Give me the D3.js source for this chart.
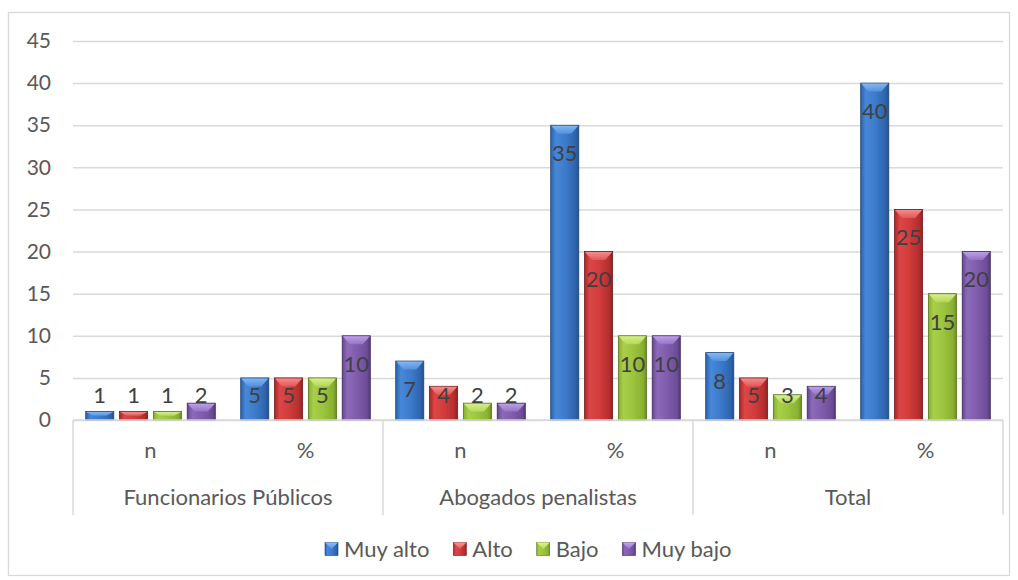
<!DOCTYPE html>
<html>
<head>
<meta charset="utf-8">
<script src="https://cdn.jsdelivr.net/npm/d3@7"></script>
<style>
  body { margin: 0; background: #fff; }
  text { font-family: Lato, "Noto Sans", sans-serif; fill: #595959; }
</style>
</head>
<body>
<div id="chart"></div>
<script>
// data
var groups = ["Funcionarios Públicos", "Abogados penalistas", "Total"];
var subs = ["n", "%"];
var series = ["Muy alto", "Alto", "Bajo", "Muy bajo"];
var muyAlto = [1, 5, 7, 35, 8, 40];
var alto = [1, 5, 4, 20, 5, 25];
var bajo = [1, 5, 2, 10, 3, 15];
var muyBajo = [2, 10, 2, 10, 4, 20];
var yTicks = [0, 5, 10, 15, 20, 25, 30, 35, 40, 45];

var values = [muyAlto, alto, bajo, muyBajo];

// colours for each series: body stops, bevel, outline
var colors = [
  {stops: ["#2C62AA", "#4788DA", "#3C79C9", "#2E64AC", "#23508C"], bevel: ["#8ABDF4", "#5593E0"], edge: "#1E4577"},
  {stops: ["#A82828", "#DC4646", "#D03B3B", "#B42E2E", "#8E2222"], bevel: ["#F79696", "#E45A5A"], edge: "#741B1B"},
  {stops: ["#86AD2F", "#A8CF4A", "#9CC33D", "#89B031", "#6C8E22"], bevel: ["#DCF296", "#B5DA58"], edge: "#56741A"},
  {stops: ["#66468F", "#8C6ABA", "#7F5CAB", "#6D4D97", "#543879"], bevel: ["#C2A6EC", "#9676C8"], edge: "#3E2A5C"}
];

var W = 1018, H = 580;
var margin = {top: 41, left: 73};
var width = 1003 - margin.left,
    height = 420 - margin.top;

var svg = d3.select("#chart")
  .append("svg")
    .attr("width", W)
    .attr("height", H);

// chart border
svg.append("rect")
  .attr("x", 8.5).attr("y", 12.5)
  .attr("width", 1001).attr("height", 563)
  .attr("fill", "none")
  .attr("stroke", "#D9D9D9")
  .attr("stroke-width", 1.3);

var defs = svg.append("defs");
colors.forEach(function(c, i) {
  var g = defs.append("linearGradient")
    .attr("id", "body" + i)
    .attr("x1", "0").attr("x2", "1").attr("y1", "0").attr("y2", "0");
  var offs = [0, 0.18, 0.55, 0.88, 1];
  c.stops.forEach(function(s, k) {
    g.append("stop").attr("offset", offs[k]).attr("stop-color", s);
  });
  var b = defs.append("linearGradient")
    .attr("id", "bevel" + i)
    .attr("x1", "0").attr("x2", "0").attr("y1", "0").attr("y2", "1");
  b.append("stop").attr("offset", 0).attr("stop-color", c.bevel[0]);
  b.append("stop").attr("offset", 1).attr("stop-color", c.bevel[1]);
});

var chart = svg.append("g")
  .attr("transform", "translate(" + margin.left + "," + margin.top + ")");

// scales
var keys = [];
groups.forEach(function(g, gi) {
  subs.forEach(function(s, si) { keys.push(gi * subs.length + si); });
});

var x0 = d3.scaleBand()
  .domain(keys)
  .range([0, width])
  .padding(0);

var x1 = d3.scaleBand()
  .domain(d3.range(series.length))
  .range([12.7, x0.bandwidth() - 12.7])
  .paddingInner(0.17);

var xg = d3.scaleBand()
  .domain(groups)
  .range([0, width]);

var y = d3.scaleLinear()
  .domain([0, 45])
  .range([height, 0]);

// gridlines + y axis
var yAxis = chart.append("g")
  .call(d3.axisLeft(y).tickValues(yTicks).tickSize(-width).tickPadding(22));
yAxis.select(".domain").remove();
yAxis.selectAll(".tick line")
  .attr("stroke", "#D9D9D9")
  .attr("stroke-width", 1.5);
yAxis.selectAll(".tick text")
  .style("font-size", "21px")
  .style("font-family", "Lato, 'Noto Sans', sans-serif")
  .attr("fill", "#595959");

// bars
function bevelPoints(x, yt, w, h) {
  var d = Math.min(8, h / 2), s = Math.min(7, w / 3);
  return [[x, yt], [x + w, yt], [x + w - s, yt + d], [x + s, yt + d]]
    .map(function(p) { return p.join(","); }).join(" ");
}

var barData = [];
keys.forEach(function(k) {
  series.forEach(function(s, si) {
    barData.push({key: k, si: si, v: values[si][k]});
  });
});

var bars = chart.append("g")
  .selectAll("g.bar")
  .data(barData)
  .enter()
  .append("g")
    .attr("class", "bar");

bars.append("rect")
  .attr("x", function(d) { return x0(d.key) + x1(d.si); })
  .attr("y", function(d) { return y(d.v); })
  .attr("width", x1.bandwidth())
  .attr("height", function(d) { return y(0) - y(d.v); })
  .attr("fill", function(d) { return "url(#body" + d.si + ")"; })
  .attr("stroke", function(d) { return colors[d.si].edge; })
  .attr("stroke-width", 0.8);

bars.append("polygon")
  .attr("points", function(d) {
    return bevelPoints(x0(d.key) + x1(d.si) + 0.5, y(d.v) + 0.5, x1.bandwidth() - 1, y(0) - y(d.v) - 1);
  })
  .attr("fill", function(d) { return "url(#bevel" + d.si + ")"; })
  .attr("opacity", 0.9);

// data labels
bars.append("text")
  .attr("x", function(d) { return x0(d.key) + x1(d.si) + x1.bandwidth() / 2; })
  .attr("y", function(d) { return Math.min(y(d.v) + 28, y(0) - 25); })
  .attr("dy", "0.36em")
  .attr("text-anchor", "middle")
  .style("font-size", "22px")
  .style("fill", "#404040")
  .text(function(d) { return d.v; });

// category axis
var cat = chart.append("g").attr("transform", "translate(0," + height + ")");
cat.append("line")
  .attr("x1", 0).attr("x2", width)
  .attr("stroke", "#D9D9D9").attr("stroke-width", 1.5);
groups.forEach(function(g) {
  cat.append("line")
    .attr("x1", xg(g)).attr("x2", xg(g))
    .attr("y1", 0).attr("y2", 95)
    .attr("stroke", "#D9D9D9").attr("stroke-width", 1.5);
});
cat.append("line")
  .attr("x1", width).attr("x2", width)
  .attr("y1", 0).attr("y2", 95)
  .attr("stroke", "#D9D9D9").attr("stroke-width", 1.5);

cat.selectAll("text.sub")
  .data(keys)
  .enter()
  .append("text")
    .attr("class", "sub")
    .attr("x", function(k) { return x0(k) + x0.bandwidth() / 2; })
    .attr("y", 30)
    .attr("dy", "0.36em")
    .attr("text-anchor", "middle")
    .style("font-size", "22px")
    .text(function(k) { return subs[k % subs.length]; });

cat.selectAll("text.grp")
  .data(groups)
  .enter()
  .append("text")
    .attr("class", "grp")
    .attr("x", function(g) { return xg(g) + xg.bandwidth() / 2; })
    .attr("y", 77)
    .attr("dy", "0.36em")
    .attr("text-anchor", "middle")
    .style("font-size", "22px")
    .text(function(g) { return g; });

// legend
var legend = svg.append("g");
var lx = 325, ly = 549;
series.forEach(function(s, i) {
  var item = legend.append("g");
  item.append("rect")
    .attr("x", lx).attr("y", ly - 6.5)
    .attr("width", 13).attr("height", 13)
    .attr("fill", "url(#body" + i + ")")
    .attr("stroke", colors[i].edge).attr("stroke-width", 0.6);
  item.append("polygon")
    .attr("points", [[lx, ly - 6.5], [lx + 13, ly - 6.5], [lx + 6.5, ly]].map(function(p) { return p.join(","); }).join(" "))
    .attr("fill", "url(#bevel" + i + ")");
  var t = item.append("text")
    .attr("x", lx + 19).attr("y", ly)
    .attr("dy", "0.36em")
    .style("font-size", "22px")
    .text(s);
  lx = lx + 19 + t.node().getComputedTextLength() + 24;
});
</script>
</body>
</html>
